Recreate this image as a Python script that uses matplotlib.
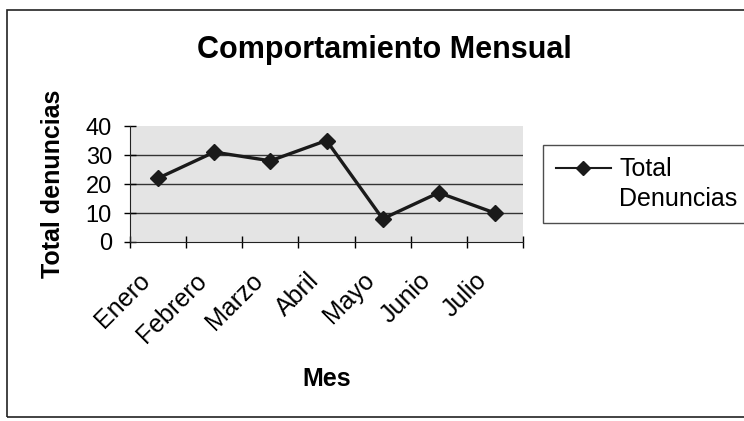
import numpy as np
from matplotlib import pyplot as plt
from matplotlib.patches import Rectangle
from matplotlib.lines import Line2D
from matplotlib import transforms

# monthly complaints
meses = ["Enero", "Febrero", "Marzo", "Abril", "Mayo", "Junio", "Julio"]
denuncias = [22, 31, 28, 35, 8, 17, 10]
y_ticks = [0, 10, 20, 30, 40]

plt.rcParams['font.family'] = ['Liberation Sans', 'DejaVu Sans']

W, H = 744, 421
fig = plt.figure(figsize=(W / 100, H / 100), dpi=100)

# outer chart frame
fig.patches.append(Rectangle((7 / W, 4 / H), 1.0, 1 - 14 / H, transform=fig.transFigure,
                             fill=False, edgecolor='#222222', linewidth=1.2))

ax = fig.add_axes([130 / W, 1 - 242 / H, (523 - 130) / W, (242 - 126) / H])
ax.set_facecolor('#e4e4e4')

x = np.arange(len(meses))
ax.plot(x, denuncias, color='#1a1a1a', linewidth=2.4, marker='D', markersize=8,
        markerfacecolor='#1a1a1a', zorder=3)

ax.set_xlim(-0.5, len(meses) - 0.5)
ax.set_ylim(0, 40)
ax.set_yticks(y_ticks)
for v in y_ticks[1:-1]:
    ax.axhline(v, color='#333333', linewidth=1.0, zorder=1)

ax.set_xticks(x)
ax.set_xticklabels(meses, rotation=45, ha='right', rotation_mode='anchor', fontsize=18)
ax.tick_params(axis='x', which='major', length=0, pad=19)
shift = transforms.ScaledTranslation(-20 / 100, 0, fig.dpi_scale_trans)
for lbl in ax.get_xticklabels():
    lbl.set_transform(lbl.get_transform() + shift)
ax.set_xticks(np.arange(len(meses) + 1) - 0.5, minor=True)
ax.tick_params(axis='x', which='minor', direction='inout', length=8, width=1)
ax.tick_params(axis='y', direction='inout', length=8, width=1, labelsize=17, pad=9)

for s in ['top', 'right']:
    ax.spines[s].set_visible(False)
for s in ['left', 'bottom']:
    ax.spines[s].set_color('#222222')

ax.set_ylabel('Total denuncias', fontsize=18, fontweight='bold')
ax.yaxis.set_label_coords(-0.165, 0.5)
ax.set_xlabel('Mes', fontsize=18, fontweight='bold')
ax.xaxis.set_label_coords(0.5, -1.08)
fig.text(384 / W, 1 - 58 / H, 'Comportamiento Mensual', fontsize=22, fontweight='bold',
         ha='center', va='baseline')

# legend: marker sits on the first line of the label
handles = [Line2D([], [], color='#1a1a1a', linewidth=1.5, marker='D', markersize=7),
           Line2D([], [], color='none')]
leg = fig.legend(handles, ['Total', 'Denuncias'], loc='upper left',
                 bbox_to_anchor=(543 / W, 1 - 145 / H), fontsize=18,
                 frameon=True, fancybox=False, edgecolor='#222222', handlelength=2.2,
                 borderpad=0.5, handletextpad=0.35, labelspacing=0.2, borderaxespad=0)
leg.get_frame().set_linewidth(1.0)

fig.savefig('out.png', dpi=100)
